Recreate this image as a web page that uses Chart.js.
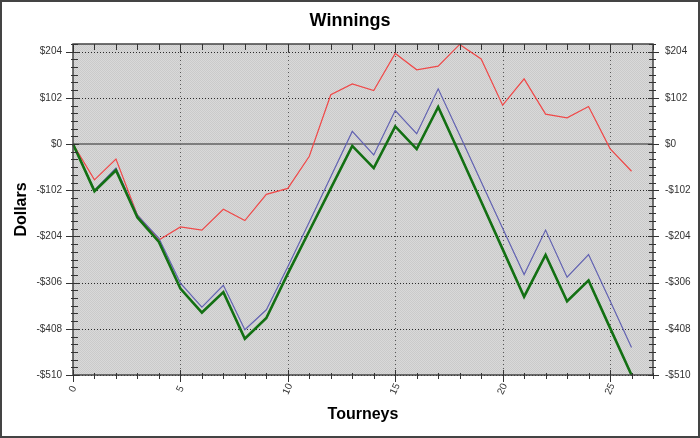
<!DOCTYPE html>
<html>
<head>
<meta charset="utf-8">
<script src="https://cdn.jsdelivr.net/npm/chart.js@4/dist/chart.umd.min.js"></script>
<style>
html,body{margin:0;padding:0;background:#fff;}
#wrap{width:700px;height:438px;position:relative;}
</style>
</head>
<body>
<div id="wrap"><canvas id="c" width="700" height="438"></canvas></div>
<script>
// ---- data ----
const tourneys = [0,1,2,3,4,5,6,7,8,9,10,11,12,13,14,15,16,17,18,19,20,21,22,23,24,25,26];
const seriesRed   = [0,-79,-33,-157,-212,-183,-190,-144,-169,-111,-98,-27,109,133,118,200,164,172,220,188,86,144,66,58,83,-10,-60];
const seriesBlue  = [0,-102,-53,-157,-208,-307,-360,-312,-410,-366,-271,-172,-72,28,-24,74,23,122,20,-83,-186,-288,-190,-294,-244,-346,-449];
const seriesGreen = [0,-104,-58,-162,-216,-319,-372,-327,-430,-384,-286,-192,-98,-4,-53,39,-11,82,-22,-127,-232,-337,-245,-347,-301,-406,-510];
const yTickValues = [-510,-408,-306,-204,-102,0,102,204];
const yTickLabels = ['-$510','-$408','-$306','-$204','-$102','$0','$102','$204'];
const xTickValues = [0,5,10,15,20,25];
const xTickLabels = ['0','5','10','15','20','25'];
const yMin = -510, yMax = 221, xMin = 0, xMax = 27;
const yMinorStep = 17, xMinorStep = 1;

const FONT = '"Liberation Sans", Arial, sans-serif';
Chart.defaults.font.family = FONT;

const pts = arr => tourneys.map((t, i) => ({x: t, y: arr[i]}));

// plot background pattern
const pc = document.createElement('canvas');
pc.width = 2; pc.height = 2;
const pctx = pc.getContext('2d');
pctx.fillStyle = '#d9d9d9'; pctx.fillRect(0,0,2,2);
pctx.fillStyle = '#cacaca'; pctx.fillRect(0,0,1,1); pctx.fillRect(1,1,1,1);

const deco = {
  id: 'deco',
  beforeDraw(chart) {
    const c = chart.ctx, a = chart.chartArea;
    c.save();
    c.fillStyle = '#fff';
    c.fillRect(0, 0, chart.width, chart.height);
    c.fillStyle = c.createPattern(pc, 'repeat');
    c.fillRect(a.left, a.top, a.right - a.left, a.bottom - a.top);
    c.restore();
  },
  beforeDatasetsDraw(chart) {
    const c = chart.ctx, a = chart.chartArea;
    const ys = chart.scales.y, xs = chart.scales.x;
    c.save();
    c.lineWidth = 1;
    ys.ticks.forEach(t => {
      if (t.value === 0) return;
      const y = Math.round(ys.getPixelForValue(t.value)) + 0.5;
      c.strokeStyle = '#2a2a2a';
      c.setLineDash([1, 2]);
      c.beginPath(); c.moveTo(a.left, y); c.lineTo(a.right, y); c.stroke();
    });
    xs.ticks.forEach(t => {
      if (t.value === xMin) return;
      const x = Math.round(xs.getPixelForValue(t.value)) + 0.5;
      c.strokeStyle = '#555';
      c.setLineDash([1, 3]);
      c.beginPath(); c.moveTo(x, a.top); c.lineTo(x, a.bottom); c.stroke();
    });
    c.setLineDash([]);
    c.strokeStyle = '#606060';
    c.lineWidth = 1.5;
    const y0 = ys.getPixelForValue(0);
    c.beginPath(); c.moveTo(a.left, y0); c.lineTo(a.right, y0); c.stroke();
    c.restore();
  },
  afterDatasetsDraw(chart) {
    const c = chart.ctx, a = chart.chartArea;
    const ys = chart.scales.y, xs = chart.scales.x;
    c.save();
    c.strokeStyle = '#444';
    c.lineWidth = 1.5;
    c.strokeRect(a.left, a.top, a.right - a.left, a.bottom - a.top);
    c.lineWidth = 1;
    c.strokeStyle = '#333';
    const hl = (x1, x2, y) => { y = Math.round(y) + 0.5; c.beginPath(); c.moveTo(x1, y); c.lineTo(x2, y); c.stroke(); };
    const vl = (x, y1, y2) => { x = Math.round(x) + 0.5; c.beginPath(); c.moveTo(x, y1); c.lineTo(x, y2); c.stroke(); };
    for (let v = yMin; v <= yMax + 0.01; v += yMinorStep) {
      const y = ys.getPixelForValue(v);
      hl(a.left - 2, a.left + 5, y);
      hl(a.right - 4, a.right + 3, y);
    }
    ys.ticks.forEach(t => {
      const y = ys.getPixelForValue(t.value);
      hl(a.left - 7, a.left + 6, y);
      hl(a.right - 5, a.right + 6, y);
    });
    for (let v = xMin; v <= xMax + 0.01; v += xMinorStep) {
      const x = xs.getPixelForValue(v);
      vl(x, a.bottom - 2, a.bottom + 4);
      vl(x, a.top, a.top + 6);
    }
    xs.ticks.forEach(t => {
      const x = xs.getPixelForValue(t.value);
      vl(x, a.bottom - 5, a.bottom + 7);
      vl(x, a.top, a.top + 8);
    });
    c.fillStyle = '#333';
    c.font = '10px ' + FONT;
    c.textAlign = 'center';
    c.textBaseline = 'middle';
    xs.ticks.forEach((t, i) => {
      const x = xs.getPixelForValue(t.value);
      c.save();
      c.translate(x, a.bottom + 14);
      c.rotate(-65 * Math.PI / 180);
      c.fillText(xTickLabels[i], 0, 0);
      c.restore();
    });
    c.strokeStyle = '#444';
    c.lineWidth = 2;
    c.strokeRect(1, 1, chart.width - 2, chart.height - 2);
    c.restore();
  }
};

const setYTicks = s => { s.ticks = yTickValues.map(v => ({value: v})); };
const setXTicks = s => { s.ticks = xTickValues.map(v => ({value: v})); };

new Chart(document.getElementById('c'), {
  type: 'line',
  data: {
    datasets: [
      {label: 'Red', data: pts(seriesRed), borderColor: '#f04848', borderWidth: 1.2, pointRadius: 0, tension: 0, order: 3, clip: 3},
      {label: 'Blue', data: pts(seriesBlue), borderColor: '#6262b2', borderWidth: 1.2, pointRadius: 0, tension: 0, order: 2, clip: 3},
      {label: 'Green', data: pts(seriesGreen), borderColor: '#137013', borderWidth: 2.6, pointRadius: 0, tension: 0, order: 1, clip: 3}
    ]
  },
  options: {
    responsive: false,
    animation: false,
    devicePixelRatio: 1,
    layout: {padding: 0},
    plugins: {
      legend: {display: false},
      tooltip: {enabled: false},
      title: {
        display: true,
        text: 'Winnings',
        color: '#000',
        font: {size: 18, weight: 'bold', family: FONT, lineHeight: 1.2},
        padding: {top: 10, bottom: 12.4}
      }
    },
    scales: {
      x: {
        type: 'linear', min: xMin, max: xMax,
        afterBuildTicks: setXTicks,
        grid: {display: false, drawTicks: false}, border: {display: false},
        ticks: {display: false},
        title: {display: true, text: 'Tourneys', color: '#000',
          font: {size: 16, weight: 'bold', family: FONT, lineHeight: 1.2},
          padding: {top: 0, bottom: 13.4}},
        afterFit: s => { s.height = 63; }
      },
      y: {
        type: 'linear', position: 'left', min: yMin, max: yMax,
        afterBuildTicks: setYTicks,
        grid: {display: false, drawTicks: false}, border: {display: false},
        ticks: {color: '#333', font: {size: 10, family: FONT}, padding: 11,
          callback: (v, i) => yTickLabels[i]},
        title: {display: true, text: 'Dollars', color: '#000',
          font: {size: 16, weight: 'bold', family: FONT, lineHeight: 1.2},
          padding: {top: 12.4, bottom: 0}},
        afterFit: s => { s.width = 73; }
      },
      y2: {
        type: 'linear', position: 'right', min: yMin, max: yMax,
        afterBuildTicks: setYTicks,
        grid: {display: false, drawTicks: false}, border: {display: false},
        ticks: {color: '#333', font: {size: 10, family: FONT}, padding: 12,
          callback: (v, i) => yTickLabels[i]},
        afterFit: s => { s.width = 47; }
      }
    }
  },
  plugins: [deco]
});
</script>
</body>
</html>
